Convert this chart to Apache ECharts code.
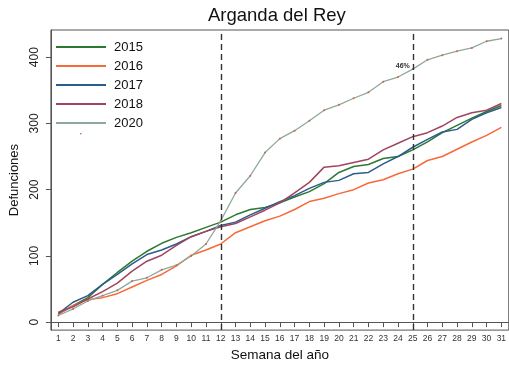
<!DOCTYPE html>
<html><head><meta charset="utf-8">
<script src="https://cdn.jsdelivr.net/npm/echarts@6/dist/echarts.min.js"></script>
<style>html,body{margin:0;padding:0;background:#fff}#c{width:509px;height:367px}</style>
</head><body><div id="c"></div>
<script>
const weeks = ['1','2','3','4','5','6','7','8','9','10','11','12','13','14','15','16','17','18','19','20','21','22','23','24','25','26','27','28','29','30','31'];
const d2015 = [12,25,37,57,75,92,107,119,128,135,143,151,162,170,173,180,189,197,209,226,235,238,247,250,260,272,286,297,308,318,327];
const d2016 = [12,25,34,37,43,53,63,72,85,101,109,118,135,144,153,160,170,182,187,194,200,210,215,224,231,244,250,261,272,282,294];
const d2017 = [13,30,40,57,72,88,102,109,118,129,137,146,151,162,172,182,191,202,211,214,224,226,239,250,264,276,287,291,306,316,324];
const d2018 = [15,23,35,46,59,77,92,101,116,129,137,144,149,159,169,180,195,211,234,236,241,246,260,270,280,286,296,309,316,320,330];
const d2020 = [10,20,32,40,48,62,67,79,86,100,118,153,195,221,256,277,289,304,320,328,338,347,363,370,382,396,403,409,414,424,428];
const yTicks = [0,100,200,300,400];
const vLines = ['12','25'];
const annotWeek = '25';
const annotText = '46%';

const font = 'Liberation Sans, Arial, sans-serif';
const colors = {'2015':'#2b7a2f','2016':'#f8693a','2017':'#2c5c8c','2018':'#a2445f','2020':'#8ea99c'};

function line(name, data, extra) {
  return Object.assign({
    name, type:'line', data, symbol:'none', smooth:false,
    lineStyle:{color:colors[name], width:1.5},
    itemStyle:{color:colors[name]},
    z:2, animation:false
  }, extra||{});
}

const d2020items = d2020.map((v,i)=> weeks[i]===annotWeek ? {value:v, label:{show:true, formatter:annotText, position:'left', distance:2, offset:[0,-3], fontSize:7, fontWeight:'bold', color:'#333', fontFamily:font}} : v);

const chart = echarts.init(document.getElementById('c'), null, {renderer:'canvas'});
chart.setOption({
  animation:false,
  backgroundColor:'#fff',
  title:{text:'Arganda del Rey', left:208, top:6, padding:0, textStyle:{fontSize:18.5, fontWeight:'normal', color:'#111', fontFamily:font}},
  legend:{
    orient:'vertical', left:56, top:37.5, padding:0, itemGap:0,
    itemWidth:50, itemHeight:2, icon:'rect',
    textStyle:{fontSize:13, color:'#111', lineHeight:19, fontFamily:font, padding:[0,0,0,3]},
    data:['2015','2016','2017','2018',{name:'2020', itemStyle:{color:colors['2020']}}]
  },
  grid:{left:46, right:-1, top:30, bottom:34, show:true, borderColor:'#555', borderWidth:1, containLabel:false},
  xAxis:{
    type:'category', data:weeks, boundaryGap:true,
    name:'Semana del año', nameLocation:'middle', nameGap:17,
    nameTextStyle:{fontSize:13.5, color:'#111', fontFamily:font},
    axisLine:{show:true, lineStyle:{color:'#555'}},
    axisTick:{show:true, alignWithLabel:true, length:5, lineStyle:{color:'#555'}},
    axisLabel:{fontSize:8.5, color:'#333', margin:4, interval:0, fontFamily:font},
    splitLine:{show:false}
  },
  yAxis:{
    type:'value', min:-12, max:441,
    name:'Defunciones', nameLocation:'middle', nameGap:23, nameRotate:90,
    nameTextStyle:{fontSize:13, color:'#111', fontFamily:font},
    axisLine:{show:true, lineStyle:{color:'#555'}},
    axisTick:{show:true, length:5, lineStyle:{color:'#555'}, customValues:yTicks},
    axisLabel:{fontSize:12, color:'#222', rotate:90, margin:10, fontFamily:font, customValues:yTicks},
    splitLine:{show:false}
  },
  series:[
    line('2015', d2015),
    line('2016', d2016),
    line('2017', d2017),
    line('2018', d2018, {
      markLine:{silent:true, symbol:'none', label:{show:false},
        lineStyle:{color:'#333', type:[6,4], width:1.4},
        data: vLines.map(v=>({xAxis:v}))}
    }),
    line('2020', d2020items, {symbol:'circle', symbolSize:2, showSymbol:true,
      itemStyle:{color:'#c86a4a'}, lineStyle:{color:colors['2020'], width:1.3}})
  ],
  graphic:[{type:'circle', left:80, top:133, shape:{r:0.8}, style:{fill:'#c0503a'}}]
});
</script></body></html>
